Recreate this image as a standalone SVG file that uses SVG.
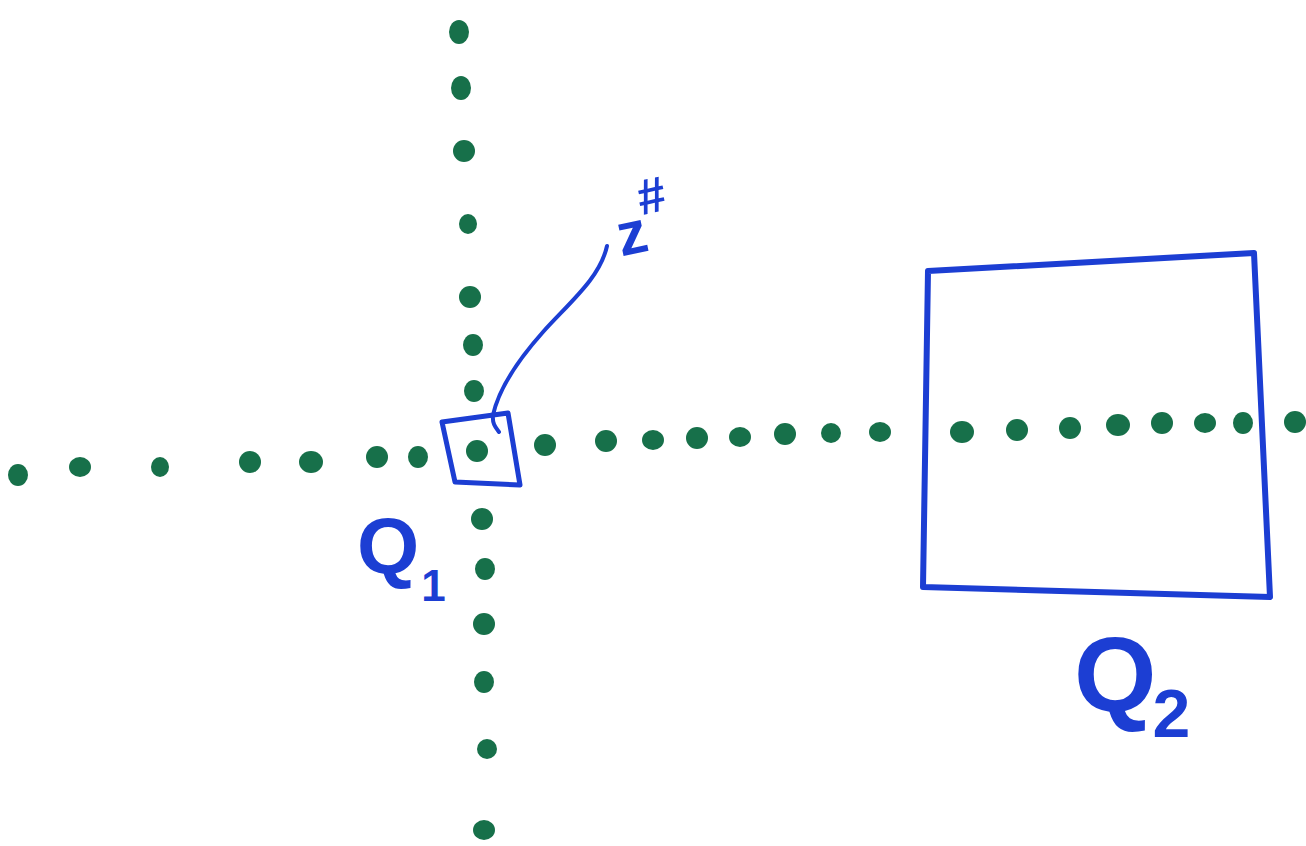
<svg xmlns="http://www.w3.org/2000/svg" width="1306" height="846" viewBox="0 0 1306 846">
<style>
.dot{fill:#17704a}
.pen{fill:none;stroke:#1c3ed3;stroke-linecap:round;stroke-linejoin:round}
.lbl{font-family:"Liberation Sans","DejaVu Sans",sans-serif;font-weight:bold;fill:#1c3ed3}
</style>
<rect width="1306" height="846" fill="#ffffff"/>
<g id="vertical-axis">
<ellipse class="dot" cx="459" cy="32" rx="10" ry="12"/>
<ellipse class="dot" cx="461" cy="88" rx="10" ry="12"/>
<ellipse class="dot" cx="464" cy="151" rx="11" ry="11"/>
<ellipse class="dot" cx="468" cy="224" rx="9" ry="10"/>
<ellipse class="dot" cx="470" cy="297" rx="11" ry="11"/>
<ellipse class="dot" cx="473" cy="345" rx="10" ry="11"/>
<ellipse class="dot" cx="474" cy="391" rx="10" ry="11"/>
<ellipse class="dot" cx="477" cy="451" rx="11" ry="11"/>
<ellipse class="dot" cx="482" cy="519" rx="11" ry="11"/>
<ellipse class="dot" cx="485" cy="569" rx="10" ry="11"/>
<ellipse class="dot" cx="484" cy="624" rx="11" ry="11"/>
<ellipse class="dot" cx="484" cy="682" rx="10" ry="11"/>
<ellipse class="dot" cx="487" cy="749" rx="10" ry="10"/>
<ellipse class="dot" cx="484" cy="830" rx="11" ry="10"/>
</g>
<g id="horizontal-axis">
<ellipse class="dot" cx="18" cy="475" rx="10" ry="11"/>
<ellipse class="dot" cx="80" cy="467" rx="11" ry="10"/>
<ellipse class="dot" cx="160" cy="467" rx="9" ry="10"/>
<ellipse class="dot" cx="250" cy="462" rx="11" ry="11"/>
<ellipse class="dot" cx="311" cy="462" rx="12" ry="11"/>
<ellipse class="dot" cx="377" cy="457" rx="11" ry="11"/>
<ellipse class="dot" cx="418" cy="457" rx="10" ry="11"/>
<ellipse class="dot" cx="545" cy="445" rx="11" ry="11"/>
<ellipse class="dot" cx="606" cy="441" rx="11" ry="11"/>
<ellipse class="dot" cx="653" cy="440" rx="11" ry="10"/>
<ellipse class="dot" cx="697" cy="438" rx="11" ry="11"/>
<ellipse class="dot" cx="740" cy="437" rx="11" ry="10"/>
<ellipse class="dot" cx="785" cy="434" rx="11" ry="11"/>
<ellipse class="dot" cx="831" cy="433" rx="10" ry="10"/>
<ellipse class="dot" cx="880" cy="432" rx="11" ry="10"/>
<ellipse class="dot" cx="962" cy="432" rx="12" ry="11"/>
<ellipse class="dot" cx="1017" cy="430" rx="11" ry="11"/>
<ellipse class="dot" cx="1070" cy="428" rx="11" ry="11"/>
<ellipse class="dot" cx="1118" cy="425" rx="12" ry="11"/>
<ellipse class="dot" cx="1162" cy="423" rx="11" ry="11"/>
<ellipse class="dot" cx="1205" cy="423" rx="11" ry="10"/>
<ellipse class="dot" cx="1243" cy="423" rx="10" ry="11"/>
<ellipse class="dot" cx="1295" cy="422" rx="11" ry="11"/>
</g>
<g id="Q1">
<path class="pen" stroke-width="5" d="M442,422 L508,413 L520,485 L455,482 Z"/>
<text class="lbl" x="357" y="573" font-size="80">Q<tspan font-size="44" dx="2" dy="28">1</tspan></text>
</g>
<g id="Q2">
<path class="pen" stroke-width="6" d="M928,271 L1254,253 L1270,597 L923,587 Z"/>
<text class="lbl" x="1074" y="711" font-size="106">Q<tspan font-size="68" dx="-4" dy="26">2</tspan></text>
</g>
<g id="zsharp-label">
<text class="lbl" x="616" y="254" font-size="60" transform="rotate(-12 630 230)">z<tspan font-size="50" dx="-2" dy="-36">#</tspan></text>
</g>
<g id="connectors">
<path class="pen" stroke-width="4" d="M607,246 C600,278 570,302 543,332 C518,360 499,388 493,415 C492,424 496,428 499,432"/>
</g>
</svg>
